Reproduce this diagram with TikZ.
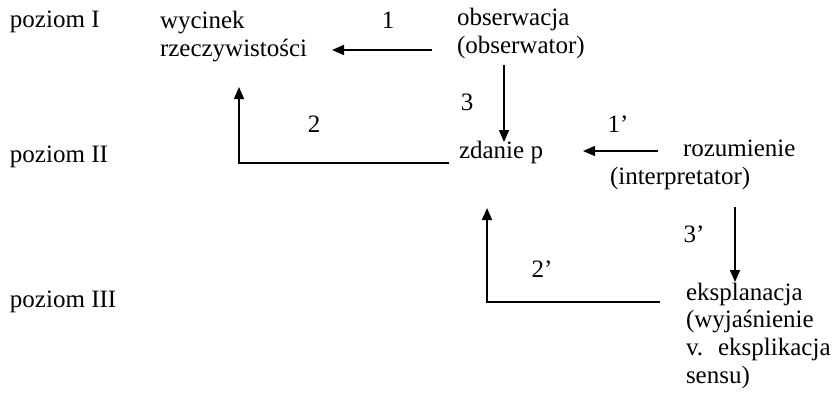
\documentclass[tikz,border=0pt]{standalone}
\usepackage{fontspec}
\setmainfont{Liberation Serif}
\usetikzlibrary{arrows.meta}
\begin{document}
\begin{tikzpicture}[x=0.5pt,y=-0.5pt,
  every node/.style={inner sep=0pt,outer sep=0pt,font=\fontsize{12.5}{13.8}\selectfont},
  txt/.style={anchor=base west,align=left},
  lbl/.style={anchor=base},
  arr/.style={line width=0.8pt,-{Triangle[length=6pt,width=5pt]}}]
\useasboundingbox (0,0) rectangle (838,398);
% level labels
\node[txt] (p1) at (10,27) {poziom I};
\node[txt] (p2) at (10,162) {poziom II};
\node[txt] (p3) at (10,307) {poziom III};
% main texts (base anchor = last line)
\node[txt] (wyc) at (160,56) {wycinek\\rzeczywistości};
\node[txt] (obs) at (457,53) {obserwacja\\(obserwator)};
\node[txt] (zd) at (459,158) {zdanie p};
\node[txt] (roz) at (683,156) {rozumienie};
\node[txt] (roz2) at (610,184) {(interpretator)};
\node[txt] (eks) at (686,383) {eksplanacja\\(wyjaśnienie\\v.\hskip 7.5pt eksplikacja\\sensu)};
% arrow labels
\node[lbl] (l1) at (388,28) {1};
\node[lbl] (l3) at (467,110) {3};
\node[lbl] (l2) at (314,132) {2};
\node[lbl] (l1p) at (618,132) {1’};
\node[lbl] (l3p) at (694,242) {3’};
\node[lbl] (l2p) at (542,277) {2’};
% connector end points
\coordinate (a1s) at (432,50);
\coordinate (a1e) at (332,50);
\coordinate (a3s) at (504,65);
\coordinate (a3e) at (504,142);
\coordinate (a2s) at (449,163);
\coordinate (a2c) at (239,163);
\coordinate (a2e) at (239,87);
\coordinate (b1s) at (658,151);
\coordinate (b1e) at (583,151);
\coordinate (b3s) at (735,207);
\coordinate (b3e) at (735,282);
\coordinate (b2s) at (660,302);
\coordinate (b2c) at (487,302);
\coordinate (b2e) at (487,208);
% connectors
\draw[arr] (a1s) -- (a1e);
\draw[arr] (a3s) -- (a3e);
\draw[arr] (a2s) -- (a2c) -- (a2e);
\draw[arr] (b1s) -- (b1e);
\draw[arr] (b3s) -- (b3e);
\draw[arr] (b2s) -- (b2c) -- (b2e);
\end{tikzpicture}
\end{document}
